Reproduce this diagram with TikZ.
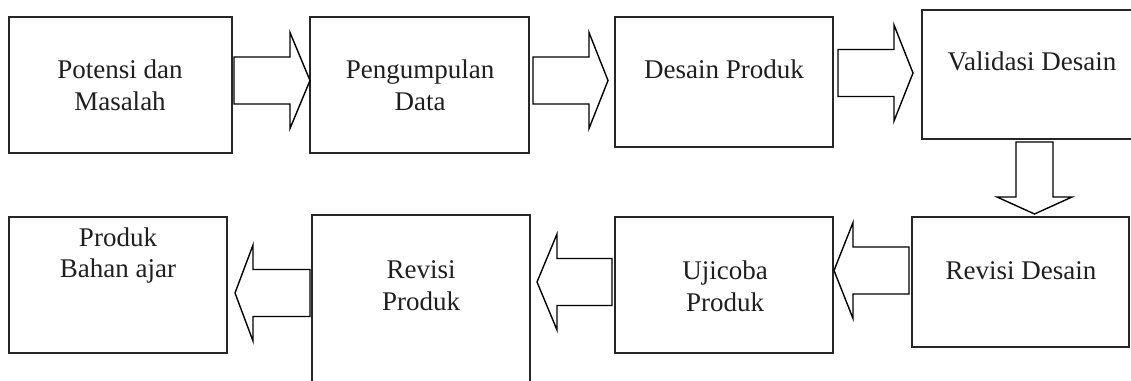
\documentclass[tikz,border=0pt]{standalone}
\usepackage{fontspec}
\setmainfont{Liberation Serif}
\usetikzlibrary{calc,positioning}

% hollow block arrow: tail, angle, length, head length, shaft half, head half
\newcommand{\blockarrow}[6]{%
  \draw[blockarr, shift={(#1)}, rotate=#2]
    (0,-#5) -- (#3-#4,-#5) -- (#3-#4,-#6) -- (#3,0) -- (#3-#4,#6) -- (#3-#4,#5) -- (0,#5) -- cycle;}

\begin{document}
\begin{tikzpicture}[x=1pt,y=1pt,
    box/.style={draw=black!85, line width=2pt, rectangle, inner sep=0pt},
    lbl/.style={font=\fontsize{27}{32}\selectfont, text=black!88, align=center, inner sep=0pt, anchor=base},
    blockarr/.style={draw=black, line width=1.4pt, fill=white, line join=miter}]
	\useasboundingbox (0,0) rectangle (1131,380);
	\clip (0,0) rectangle (1131,380);
	% top row
	\node [box, minimum width=223, minimum height=136] (potensi) at (120.5,295) {};
	\node [box, minimum width=219, minimum height=136] (data) at (419.5,295) {};
	\node [box, minimum width=218, minimum height=130] (desain) at (724,298) {};
	\node [box, minimum width=220, minimum height=129] (validasi) at (1032,305.5) {};
	% bottom row
	\node [box, minimum width=217, minimum height=130] (revdesain) at (1020.5,98) {};
	\node [box, minimum width=218, minimum height=136] (ujicoba) at (724,95) {};
	\node [box, minimum width=218, minimum height=185] (revproduk) at (421,72.5) {};
	\node [box, minimum width=218, minimum height=136] (bahan) at (118,95) {};
	% texts (base = last line)
	\node [lbl] (tpotensi) at (120,269) {Potensi dan\\Masalah};
	\node [lbl] (tdata) at (420,269) {Pengumpulan\\Data};
	\node [lbl] (tdesain) at (724,301) {Desain Produk};
	\node [lbl] (tvalidasi) at (1032,309) {Validasi Desain};
	\node [lbl] (trevdesain) at (1021,100) {Revisi Desain};
	\node [lbl] (tujicoba) at (725,69) {Ujicoba\\Produk};
	\node [lbl] (trevproduk) at (421,70) {Revisi\\Produk};
	\node [lbl] (tbahan) at (118,102) {Produk\\Bahan ajar};
	% arrow tails
	\coordinate (a1) at (234,299.5);
	\coordinate (a2) at (533,299.5);
	\coordinate (a3) at (838,307);
	\coordinate (a4) at (1034.5,238);
	\coordinate (a5) at (909,109.5);
	\coordinate (a6) at (612,98);
	\coordinate (a7) at (310,87);
	\blockarrow{a1}{0}{76}{20}{23.5}{48}
	\blockarrow{a2}{0}{75}{19}{23.5}{48}
	\blockarrow{a3}{0}{75}{19}{23.5}{48}
	\blockarrow{a4}{-90}{72}{17}{18.5}{37.5}
	\blockarrow{a5}{180}{75}{19}{23.5}{48}
	\blockarrow{a6}{180}{75}{20}{23.5}{48}
	\blockarrow{a7}{180}{75}{18}{23.5}{48}
\end{tikzpicture}
\end{document}
